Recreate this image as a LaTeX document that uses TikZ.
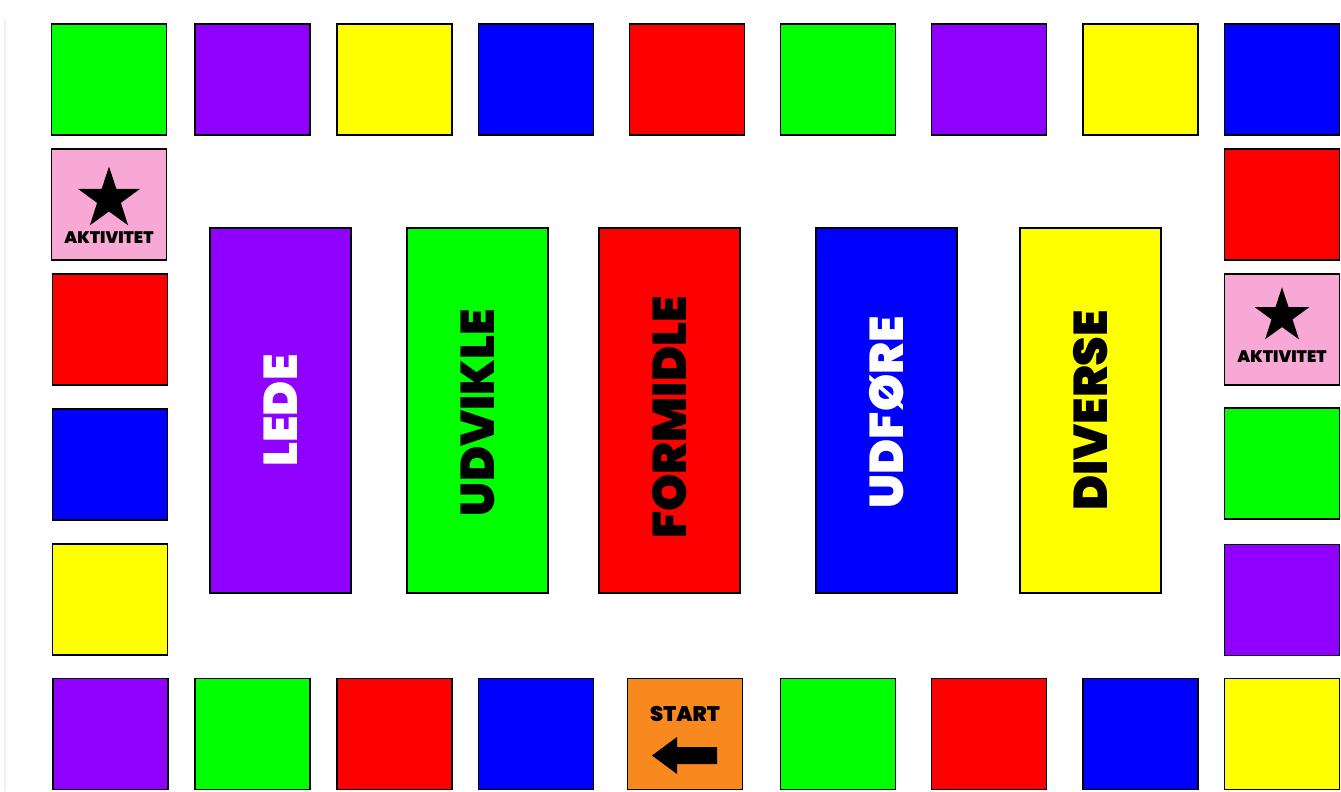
\documentclass[tikz,border=0pt]{standalone}
\usepackage{fontspec}
\setmainfont{Poppins}[BoldFont={Poppins Black}]
\usetikzlibrary{shapes.geometric,arrows.meta}
\definecolor{cG}{HTML}{00FF00}
\definecolor{cP}{HTML}{8F00FF}
\definecolor{cY}{HTML}{FFFF00}
\definecolor{cB}{HTML}{0000FF}
\definecolor{cR}{HTML}{FF0000}
\definecolor{cK}{HTML}{F7A8D4}
\definecolor{cO}{HTML}{F7891F}
\tikzset{
  tile/.style={draw=black,line width=1.1pt,minimum width=2.3cm,
               minimum height=2.22cm,inner sep=0pt},
  card/.style={draw=black,line width=1.1pt,minimum width=2.82cm,
               minimum height=7.3cm,inner sep=0pt},
  cardtext/.style={rotate=90,font=\bfseries\fontsize{27}{27}\selectfont},
  akt/.style={font=\bfseries\fontsize{9.5}{9.5}\selectfont},
  bigstar/.style={star,star points=5,star point ratio=2.6,fill=black,
                  minimum size=1.3cm,inner sep=0pt},
}
\begin{document}
\begin{tikzpicture}[x=0.02cm,y=-0.02cm]
  \useasboundingbox (0,0) rectangle (1341,791);
  \draw[black!6,line width=1pt] (5,20) -- (5,791);
  % top row
  \foreach \x/\c [count=\i] in {109/cG,252.5/cP,394.5/cY,536/cB,687/cR,
      838/cG,989/cP,1140.5/cY,1282/cB}
    \node[tile,fill=\c] (t\i) at (\x,79.5) {};
  % bottom row
  \foreach \x/\c [count=\i] in {110.5/cP,252.5/cG,394.5/cR,536/cB,
      838/cG,989/cR,1140.5/cB,1282/cY}
    \node[tile,fill=\c] (b\i) at (\x,734) {};
  % left column
  \foreach \y/\c [count=\i] in {329.5/cR,464.5/cB,599.5/cY}
    \node[tile,fill=\c] (l\i) at (110,\y) {};
  % right column
  \foreach \y/\c [count=\i] in {204.5/cR,463.5/cG,600/cP}
    \node[tile,fill=\c] (r\i) at (1282,\y) {};
  % activity tiles
  \node[tile,fill=cK] (akt1) at (109,204.5) {};
  \node[bigstar] (s1) at (109,199) {};
  \node[akt] at (109,238) {AKTIVITET};
  \node[tile,fill=cK] (akt2) at (1282,329.5) {};
  \node[bigstar,minimum size=1.15cm] (s2) at (1282,316) {};
  \node[akt] at (1282,357) {AKTIVITET};
  % start tile
  \node[tile,fill=cO] (start) at (685,734) {};
  \node[font=\bfseries\fontsize{12}{12}\selectfont] (stxt) at (685,714) {START};
  \fill[black] (652,755.5) -- (677,737) -- (677,747) -- (717,747)
    -- (717,764) -- (677,764) -- (677,774) -- cycle;
  % category cards
  \foreach \x/\c/\t/\tc/\d [count=\i] in {280.5/cP/LEDE/white/0,
      477.5/cG/UDVIKLE/black/2,669.5/cR/FORMIDLE/black/7,
      886.5/cB/UDFØRE/white/2,1090.5/cY/DIVERSE/black/0}
  {
    \node[card,fill=\c] (k\i) at (\x,410.5) {};
    \node[cardtext,text=\tc] at ([yshift=-\d*0.02cm]k\i) {\t};
  }
\end{tikzpicture}
\end{document}
